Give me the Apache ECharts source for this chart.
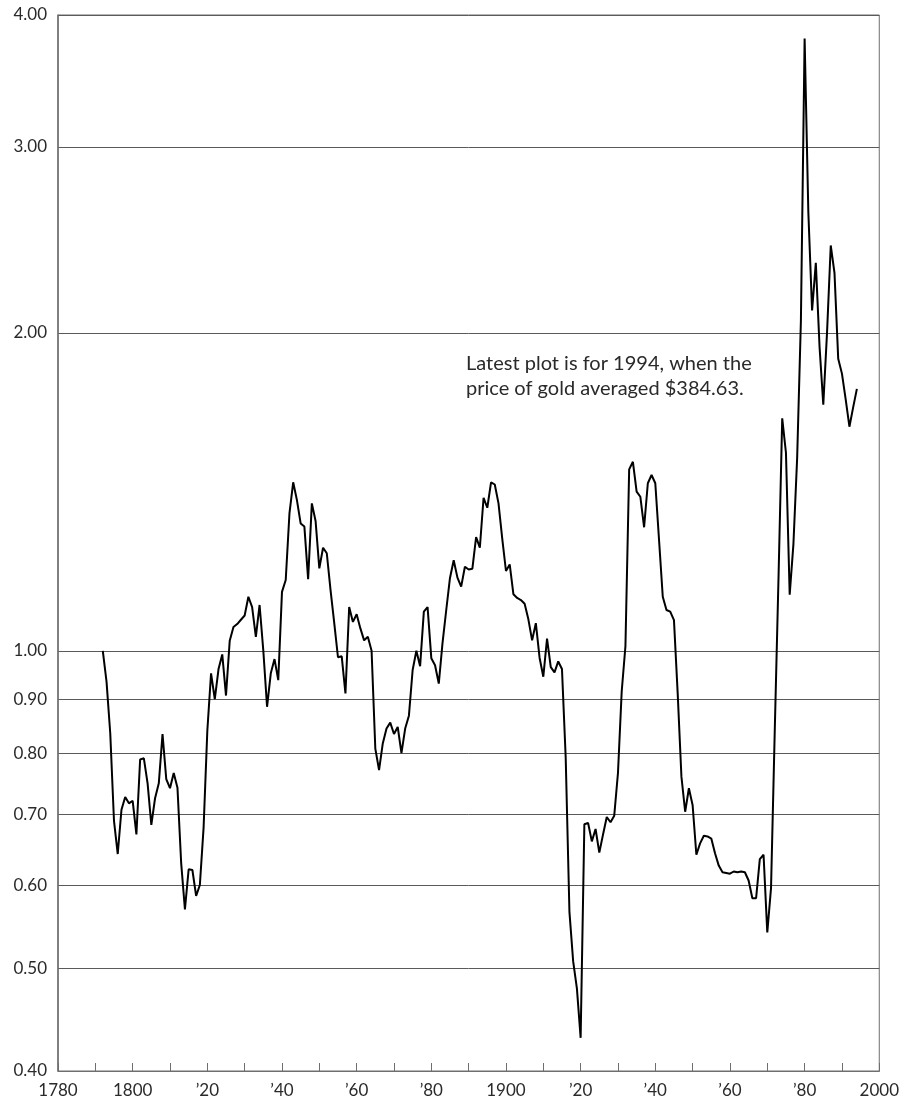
<!DOCTYPE html>
<html>
<head>
<meta charset="utf-8">
<title>Purchasing power of gold, 1792–1994</title>
<script src="https://cdn.jsdelivr.net/npm/echarts@6/dist/echarts.min.js"></script>
<style>
  html, body { margin: 0; padding: 0; background: #fff; }
  #chart { width: 902px; height: 1101px; }
</style>
</head>
<body>
<div id="chart"></div>
<script>
// Index of gold's purchasing power, one value per year starting in firstYear (1792 = 1.00)
const firstYear = 1792;
const lastYear = 1994;
const goldIndex = [
  1.00, 0.935, 0.835, 0.69, 0.642, 0.707, 0.727, 0.717,           // 1792-1799
  0.721, 0.670, 0.789, 0.791, 0.749, 0.684, 0.725, 0.749, 0.834, 0.756, // 1800-1809
  0.741, 0.766, 0.742, 0.629, 0.569, 0.621, 0.620, 0.586, 0.600, 0.68,  // 1810-1819
  0.84, 0.952, 0.90, 0.961, 0.992, 0.907, 1.022, 1.053, 1.06, 1.07,     // 1820-1829
  1.08, 1.125, 1.10, 1.031, 1.105, 1.00, 0.885, 0.952, 0.982, 0.938,    // 1830-1839
  1.137, 1.167, 1.349, 1.444, 1.389, 1.320, 1.311, 1.169, 1.379, 1.327, // 1840-1849
  1.197, 1.252, 1.237, 1.142, 1.062, 0.986, 0.988, 0.911, 1.100, 1.065, // 1850-1859
  1.083, 1.050, 1.023, 1.031, 1.00, 0.808, 0.771, 0.817, 0.844, 0.855,  // 1860-1869
  0.834, 0.847, 0.80, 0.844, 0.868, 0.959, 1.00, 0.967, 1.089, 1.100,   // 1870-1879
  0.984, 0.969, 0.931, 1.017, 1.093, 1.172, 1.218, 1.173, 1.150, 1.201, // 1880-1889
  1.194, 1.196, 1.281, 1.252, 1.396, 1.366, 1.444, 1.437, 1.379, 1.277, // 1890-1899
  1.190, 1.207, 1.131, 1.122, 1.117, 1.108, 1.071, 1.023, 1.062, 0.985, // 1900-1909
  0.945, 1.027, 0.965, 0.954, 0.977, 0.961, 0.792, 0.566, 0.508, 0.479, // 1910-1919
  0.430, 0.685, 0.687, 0.660, 0.678, 0.644, 0.670, 0.696, 0.688, 0.698, // 1920-1929
  0.766, 0.915, 1.01, 1.485, 1.510, 1.415, 1.399, 1.309, 1.441, 1.467,  // 1930-1939
  1.441, 1.274, 1.125, 1.093, 1.089, 1.069, 0.911, 0.760, 0.704, 0.741, // 1940-1949
  0.714, 0.641, 0.657, 0.668, 0.667, 0.664, 0.643, 0.626, 0.617, 0.616, // 1950-1959
  0.615, 0.618, 0.617, 0.618, 0.617, 0.606, 0.583, 0.583, 0.635, 0.641, // 1960-1969
  0.541, 0.596, 0.84, 1.17, 1.66, 1.54, 1.13, 1.262, 1.523, 2.05,       // 1970-1979
  3.80, 2.60, 2.10, 2.33, 1.94, 1.71, 2.00, 2.42, 2.28, 1.89,           // 1980-1989
  1.83, 1.73, 1.63, 1.70, 1.77                                          // 1990-1994
];

// Value axis (logarithmic) gridlines and labels
const yTicks = [0.4, 0.5, 0.6, 0.7, 0.8, 0.9, 1, 2, 3, 4];

// Year axis labels, every twenty years
const xTickYears = [1780, 1800, 1820, 1840, 1860, 1880, 1900, 1920, 1940, 1960, 1980, 2000];
const xTickLabels = ['1780', '1800', '\u201920', '\u201940', '\u201960', '\u201980',
                     '1900', '\u201920', '\u201940', '\u201960', '\u201980', '2000'];

const noteLines = [
  'Latest plot is for 1994, when the',
  'price of gold averaged $384.63.'
];

const seriesData = goldIndex.map((v, i) => [firstYear + i, v]);

const labelFont = 'Lato, "Open Sans", "DejaVu Sans", sans-serif';
const axisGrey = '#6e6e6e';

const chart = echarts.init(document.getElementById('chart'), null, { renderer: 'canvas' });

chart.setOption({
  animation: false,
  backgroundColor: '#fff',
  grid: {
    left: 58, right: 22, top: 15, bottom: 30,
    show: true, borderColor: axisGrey, borderWidth: 1,
    containLabel: false
  },
  xAxis: {
    type: 'value',
    min: 1780, max: 2000, interval: 10,
    axisLine: { show: true, lineStyle: { color: axisGrey, width: 1 } },
    axisTick: { show: true, inside: true, length: 8, lineStyle: { color: axisGrey, width: 1 } },
    splitLine: { show: false },
    axisLabel: {
      color: '#2a2a2a', fontSize: 17, fontFamily: labelFont, margin: 11,
      formatter: v => {
        const k = xTickYears.indexOf(Math.round(v));
        return k >= 0 ? xTickLabels[k] : '';
      }
    }
  },
  yAxis: {
    type: 'log', logBase: 10,
    min: 0.4, max: 4,
    axisLine: { show: true, lineStyle: { color: axisGrey, width: 1.5 } },
    axisTick: { show: false, customValues: yTicks },
    axisLabel: {
      customValues: yTicks,
      color: '#2a2a2a', fontSize: 17, fontFamily: labelFont, margin: 11,
      formatter: v => Number(v).toFixed(2)
    },
    splitLine: { show: true, lineStyle: { color: '#5a5a5a', width: 1 } }
  },
  graphic: [{
    type: 'text',
    left: 466, top: 351,
    style: {
      text: noteLines.join('\n'),
      font: '20px ' + labelFont,
      fill: '#2a2a2a',
      lineHeight: 25
    }
  }],
  series: [{
    type: 'line',
    name: 'Gold index',
    data: seriesData,
    showSymbol: false,
    symbol: 'none',
    lineStyle: { color: '#000', width: 2 },
    z: 3
  }]
});
</script>
</body>
</html>
